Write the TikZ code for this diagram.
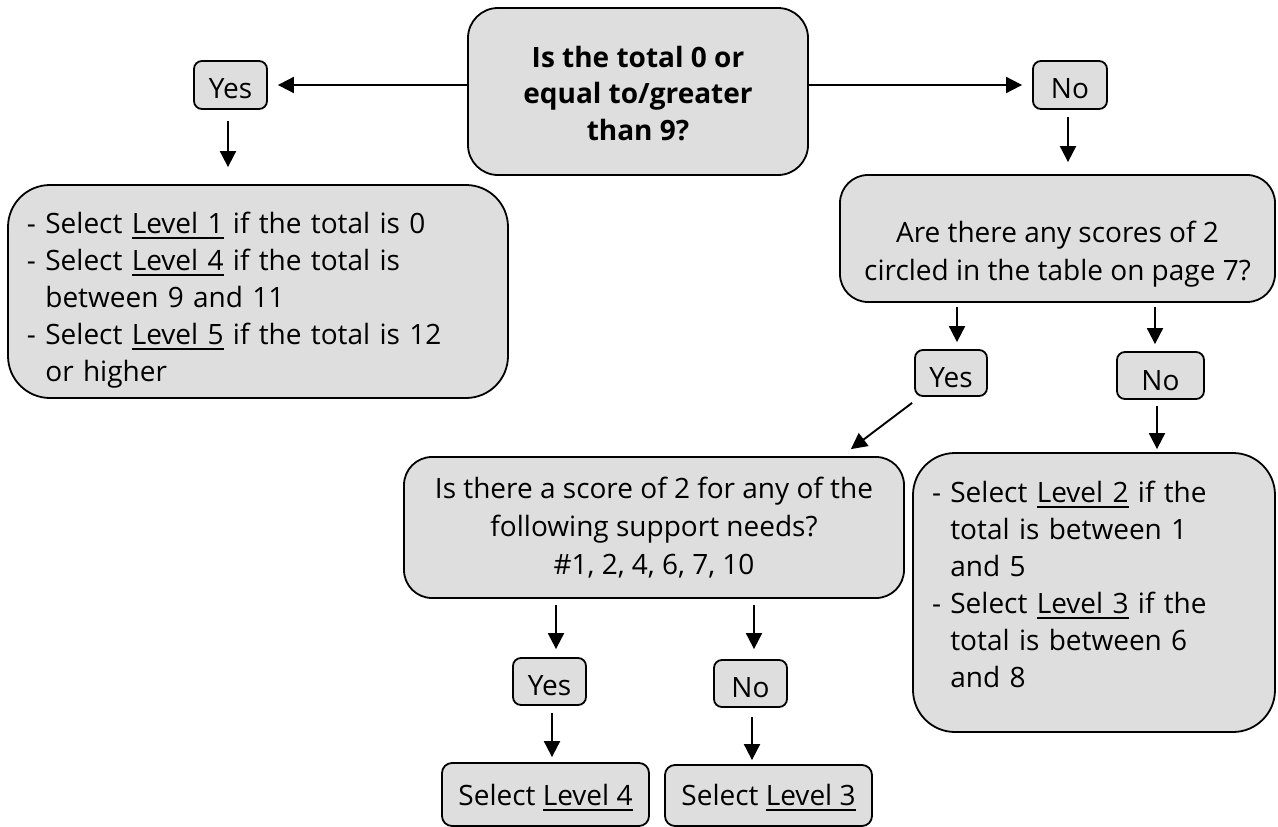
\documentclass[tikz,border=0pt]{standalone}
\usepackage{fontspec}
\setmainfont{Open Sans}
\usetikzlibrary{arrows.meta,calc}
\definecolor{boxgray}{RGB}{222,222,222}
\newsavebox{\myulbox}
\newcommand{\myul}[1]{\sbox{\myulbox}{#1}\rlap{\rule[-6pt]{\wd\myulbox}{2pt}}\usebox{\myulbox}}
\begin{document}
\begin{tikzpicture}[x=1pt,y=-1pt,
  every node/.style={font=\fontsize{28}{37}\selectfont},
  box/.style={draw=black, line width=1.8pt, fill=boxgray, inner sep=0pt},
  small/.style={box, rounded corners=8pt, text depth=7pt},
  arr/.style={line width=1.9pt, -{Triangle[length=16pt,width=16pt]}},
]
\path[use as bounding box] (0,0) rectangle (1278,827);

% question boxes
\node[box, rounded corners=30pt, minimum width=340pt, minimum height=167pt, align=center,
      font=\fontsize{28}{36.5}\selectfont\bfseries] (q1) at (638,91.5)
  {\rule{0pt}{31pt}Is the total 0 or\\equal to/greater\\than 9?\rule[-7pt]{0pt}{7pt}};

\node[box, rounded corners=28pt, minimum width=435pt, minimum height=127pt, align=center,
      font=\fontsize{28}{38}\selectfont] (rq) at (1057.5,238.5)
  {\rule{0pt}{52pt}Are there any scores of 2\\circled in the table on page 7?\rule[-7pt]{0pt}{7pt}};

\node[box, rounded corners=28pt, minimum width=500pt, minimum height=141pt, align=center,
      font=\fontsize{28}{38}\selectfont] (mq) at (654,527.5)
  {\rule{0pt}{24pt}Is there a score of 2 for any of the\\following support needs?\\\#1, 2, 4, 6, 7, 10\rule[-7pt]{0pt}{7pt}};

% result boxes
\node[box, rounded corners=42pt, minimum width=500pt, minimum height=213pt,
      text width=462pt, inner xsep=19pt, align=left] (lbox) at (258,291.5)
  {\rule{0pt}{38pt}- Select \myul{Level 1} if the total is 0\\
   - Select \myul{Level 4} if the total is\\
   \phantom{- }between 9 and 11\\
   - Select \myul{Level 5} if the total is 12\\
   \phantom{- }or higher\rule[-7pt]{0pt}{7pt}};

\node[box, rounded corners=42pt, minimum width=362pt, minimum height=279pt,
      text width=324pt, inner xsep=19pt, align=left] (rbox) at (1094,592.5)
  {\rule{0pt}{22pt}- Select \myul{Level 2} if the\\
   \phantom{- }total is between 1\\
   \phantom{- }and 5\\
   - Select \myul{Level 3} if the\\
   \phantom{- }total is between 6\\
   \phantom{- }and 8\rule[-18pt]{0pt}{18pt}};

% yes / no labels
\node[small, minimum width=73pt, minimum height=48pt, text height=33pt] (yes1) at (230.5,85) {Yes};
\node[small, minimum width=74pt, minimum height=48pt, text height=33pt] (no1) at (1070,85) {No};
\node[small, minimum width=72pt, minimum height=46pt, text height=35pt] (yes2) at (951,373) {Yes};
\node[small, minimum width=87pt, minimum height=47pt, text height=36pt] (no2) at (1160.5,375.5) {No};
\node[small, minimum width=73pt, minimum height=47pt, text height=34pt] (yes3) at (549.5,681.5) {Yes};
\node[small, minimum width=73pt, minimum height=47pt, text height=34pt] (no3) at (750.5,683.5) {No};

\node[small, rounded corners=10pt, minimum width=207pt, minimum height=63pt, text height=28pt] (sel4) at (545.5,794.5) {Select \myul{Level 4}};
\node[small, rounded corners=10pt, minimum width=207pt, minimum height=61pt, text height=26pt] (sel3) at (768.5,795.5) {Select \myul{Level 3}};

% connectors
\draw[arr, shorten >=10pt] (yes1.east -| q1.west) -- (yes1.east);
\draw[arr, shorten >=10pt] (no1.west -| q1.east) -- (no1.west);
\draw[arr, shorten <=11pt, shorten >=17pt] ([xshift=-2.5pt]yes1.south) -- ([xshift=-2.5pt]yes1.south |- lbox.north);
\draw[arr, shorten <=7pt, shorten >=12pt] ([xshift=-2pt]no1.south) -- ([xshift=-2pt]no1.south |- rq.north);
\draw[arr, shorten <=4pt, shorten >=7pt] ([xshift=6pt]yes2.north |- rq.south) -- ([xshift=6pt]yes2.north);
\draw[arr, shorten <=4pt, shorten >=7pt] ([xshift=-5.5pt]no2.north |- rq.south) -- ([xshift=-5.5pt]no2.north);
\draw[arr, shorten <=6pt, shorten >=3pt] ([xshift=-3.5pt]no2.south) -- ([xshift=-3.5pt]no2.south |- rbox.north);
\draw[arr] ([shift={(-2,6)}]yes2.south west) -- ([shift={(-54,-7)}]mq.north east);
\draw[arr, shorten <=6pt, shorten >=8pt] ([xshift=6.5pt]yes3.north |- mq.south) -- ([xshift=6.5pt]yes3.north);
\draw[arr, shorten <=6pt, shorten >=10pt] ([xshift=3.5pt]no3.north |- mq.south) -- ([xshift=3.5pt]no3.north);
\draw[arr, shorten <=7pt, shorten >=5pt] ([xshift=2.5pt]yes3.south) -- ([xshift=2.5pt]yes3.south |- sel4.north);
\draw[arr, shorten <=9pt, shorten >=4pt] ([xshift=1.5pt]no3.south) -- ([xshift=1.5pt]no3.south |- sel3.north);
\end{tikzpicture}
\end{document}
